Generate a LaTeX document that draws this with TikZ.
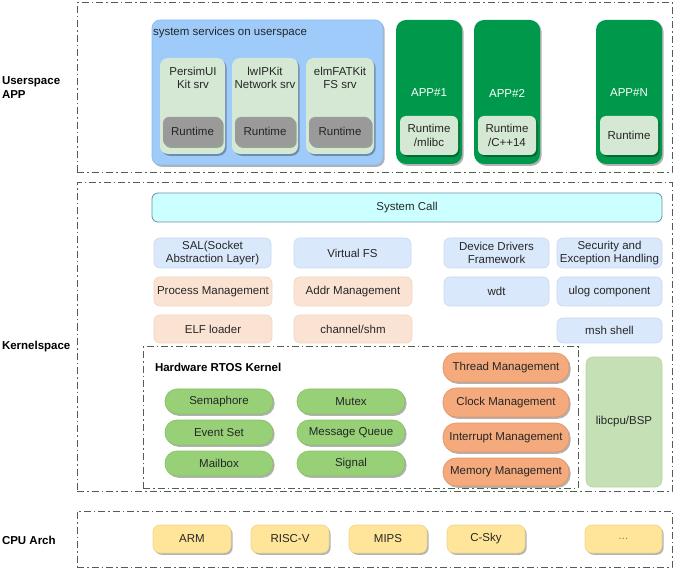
\documentclass[tikz,border=0pt]{standalone}
\usepackage{fontspec}
\setmainfont{Liberation Sans}
\usetikzlibrary{shadows}
\definecolor{dashc}{HTML}{4F604F}
\definecolor{txt}{HTML}{262626}
\definecolor{blueA}{HTML}{9ECBFA}
\definecolor{blueB}{HTML}{88B9EC}
\definecolor{svc}{HTML}{D5E8D4}
\definecolor{rtg}{HTML}{9A9A9A}
\definecolor{appg}{HTML}{00994C}
\definecolor{sysA}{HTML}{CCFFFF}
\definecolor{sysB}{HTML}{6C8EA0}
\definecolor{lbA}{HTML}{DAE8FC}
\definecolor{lbB}{HTML}{C9D9EF}
\definecolor{peA}{HTML}{FBE3D3}
\definecolor{peB}{HTML}{F1D2BF}
\definecolor{gpA}{HTML}{97D077}
\definecolor{gpB}{HTML}{86BF68}
\definecolor{opA}{HTML}{F4AA7C}
\definecolor{opB}{HTML}{E39463}
\definecolor{lcA}{HTML}{C5E0B4}
\definecolor{lcB}{HTML}{B6D6A3}
\definecolor{cpA}{HTML}{FFE599}
\definecolor{cpB}{HTML}{EFD488}
\newcommand\boxat[7]{\node[#1,minimum width={#5-#3},minimum height={#6-#4}] (#2) at ({(#3+#5)/2},{(#4+#6)/2}) {#7};}
\begin{document}
\begin{tikzpicture}[x=1pt,y=-1pt,
  base/.style={inner sep=0pt,outer sep=0pt,align=center,text=txt,font=\fontsize{11.5}{13.5}\selectfont},
  shad/.style={drop shadow={shadow xshift=1.6pt,shadow yshift=-1.8pt,fill=black,opacity=0.3}},
  frame/.style={base,draw=dashc,line width=1pt,dash pattern=on 7pt off 3pt on 1.5pt off 3pt},
  sidelbl/.style={base,anchor=west,align=left,font=\fontsize{11.5}{14}\selectfont\bfseries,text=black},
  bluebox/.style={base,fill=blueA,draw=blueB,line width=0.6pt,rounded corners=8pt,shad},
  svcbox/.style={base,fill=svc,rounded corners=8pt,shad},
  rtbox/.style={base,fill=rtg,rounded corners=6pt,shad},
  appbox/.style={base,fill=appg,rounded corners=10pt,shad},
  apprt/.style={base,fill=svc,rounded corners=6pt,shad},
  sysbox/.style={base,fill=sysA,draw=sysB,line width=0.8pt,rounded corners=6pt},
  lblue/.style={base,fill=lbA,draw=lbB,line width=0.6pt,rounded corners=6pt},
  peach/.style={base,fill=peA,draw=peB,line width=0.6pt,rounded corners=6pt},
  gpill/.style={base,fill=gpA,draw=gpB,line width=0.6pt,rounded corners=12pt,shad},
  opill/.style={base,fill=opA,draw=opB,line width=0.6pt,rounded corners=13pt,shad},
  libbox/.style={base,fill=lcA,draw=lcB,line width=0.6pt,rounded corners=7pt},
  cpubox/.style={base,fill=cpA,draw=cpB,line width=0.6pt,rounded corners=7pt,shad}
]
\useasboundingbox (0,0) rectangle (675,569);
% frames
\boxat{frame}{userfr}{77}{3}{672}{173}{}
\boxat{frame}{kernfr}{77}{183}{672}{491}{}
\boxat{frame}{cpufr}{77}{511}{672}{567}{}
% side labels
\node[sidelbl] (luser) at (2,88) {Userspace\\APP};
\node[sidelbl] (lkern) at (2,347) {Kernelspace};
\node[sidelbl] (lcpu) at (2,540) {CPU Arch};
% userspace
\boxat{bluebox}{svcs}{152}{20}{383}{165}{}
\node[base,anchor=west] (svct) at (153,33) {system services on userspace};
\boxat{svcbox}{s1}{160}{58}{225}{154}{}
\boxat{svcbox}{s2}{232}{58}{298}{154}{}
\boxat{svcbox}{s3}{306}{58}{374}{154}{}
\node[base] (s1t) at (193,78) {PersimUI\\Kit srv};
\node[base] (s2t) at (265,78) {lwIPKit\\Network srv};
\node[base] (s3t) at (340,78) {elmFATKit\\FS srv};
\boxat{rtbox}{r1}{163}{117}{222}{146}{Runtime}
\boxat{rtbox}{r2}{235}{117}{295}{146}{Runtime}
\boxat{rtbox}{r3}{309}{117}{371}{146}{Runtime}
\boxat{appbox}{a1}{396}{20}{462}{164}{}
\boxat{appbox}{a2}{474}{20}{540}{164}{}
\boxat{appbox}{an}{596}{20}{662}{164}{}
\node[base,text=white] (a1t) at (429,93) {APP\#1};
\node[base,text=white] (a2t) at (507,93) {APP\#2};
\node[base,text=white] (ant) at (629,93) {APP\#N};
\boxat{apprt}{ar1}{400}{116}{458}{155}{Runtime\\/mlibc}
\boxat{apprt}{ar2}{478}{116}{536}{155}{Runtime\\/C++14}
\boxat{apprt}{arn}{600}{116}{658}{155}{Runtime}
% kernelspace
\boxat{sysbox}{sysc}{152}{193}{662}{222}{System Call}
\boxat{lblue}{sal}{154}{238}{271}{268}{SAL(Socket\\Abstraction Layer)}
\boxat{lblue}{vfs}{294}{238}{411}{268}{Virtual FS}
\boxat{lblue}{ddf}{444}{238}{549}{268}{Device Drivers\\Framework}
\boxat{lblue}{sec}{557}{238}{662}{268}{Security and\\Exception Handling}
\boxat{peach}{pm}{154}{277}{272}{306}{Process Management}
\boxat{peach}{am}{294}{277}{412}{306}{Addr Management}
\boxat{lblue}{wdt}{444}{277}{549}{306}{wdt}
\boxat{lblue}{ulog}{557}{277}{662}{306}{ulog component}
\boxat{peach}{elf}{154}{315}{272}{343}{ELF loader}
\boxat{peach}{chn}{294}{315}{412}{343}{channel/shm}
\boxat{lblue}{msh}{557}{318}{662}{343}{msh shell}
% RTOS
\boxat{frame}{rtos}{143}{347}{578}{488}{}
\node[base,anchor=west,font=\fontsize{11.5}{13.5}\selectfont\bfseries,text=black] (rtost) at (155,367) {Hardware RTOS Kernel};
\boxat{gpill}{sem}{165}{389}{273}{414}{Semaphore}
\boxat{gpill}{mtx}{297}{389}{405}{414}{Mutex}
\boxat{gpill}{evt}{165}{420}{273}{445}{Event Set}
\boxat{gpill}{mq}{297}{420}{405}{445}{Message Queue}
\boxat{gpill}{mbx}{165}{451}{273}{476}{Mailbox}
\boxat{gpill}{sig}{297}{451}{405}{476}{Signal}
\boxat{opill}{thr}{443}{353}{569}{382}{Thread Management}
\boxat{opill}{clk}{443}{388}{569}{417}{Clock Management}
\boxat{opill}{irq}{443}{423}{569}{452}{Interrupt Management}
\boxat{opill}{mem}{443}{458}{569}{486}{Memory Management}
\boxat{libbox}{bsp}{586}{357}{662}{487}{libcpu/BSP}
% CPU
\boxat{cpubox}{arm}{153}{525}{231}{553}{ARM}
\boxat{cpubox}{rv}{251}{525}{329}{553}{RISC-V}
\boxat{cpubox}{mips}{349}{525}{427}{553}{MIPS}
\boxat{cpubox}{csky}{447}{525}{525}{553}{C-Sky}
\boxat{cpubox,text=gray}{more}{585}{525}{662}{553}{...}
\end{tikzpicture}
\end{document}
